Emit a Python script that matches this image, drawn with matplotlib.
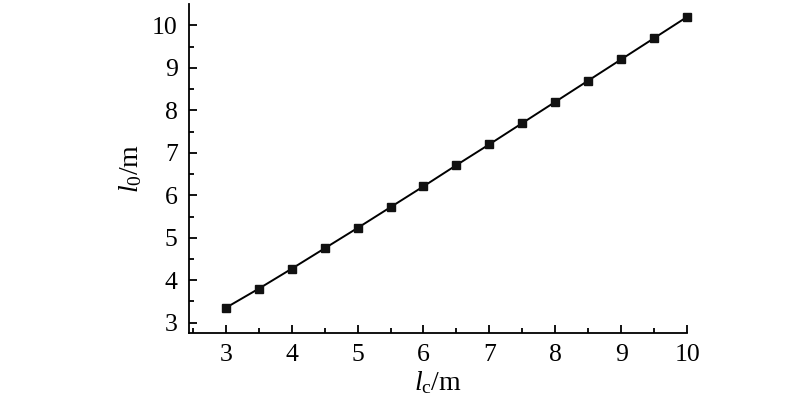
import matplotlib
matplotlib.use('Agg')
import matplotlib.pyplot as plt

plt.rcParams['font.family'] = ['Liberation Serif', 'DejaVu Serif']
plt.rcParams['mathtext.fontset'] = 'custom'
plt.rcParams['mathtext.rm'] = 'Liberation Serif'
plt.rcParams['mathtext.it'] = 'Liberation Serif:italic'

# 数据
lc = [3, 3.5, 4, 4.5, 5, 5.5, 6, 6.5, 7, 7.5, 8, 8.5, 9, 9.5, 10]
l0 = [3.35, 3.8, 4.27, 4.75, 5.23, 5.72, 6.21, 6.71, 7.2, 7.7, 8.2, 8.7, 9.2, 9.7, 10.2]
xticks = [3, 4, 5, 6, 7, 8, 9, 10]
yticks = [3, 4, 5, 6, 7, 8, 9, 10]

fig = plt.figure(figsize=(8, 4.08), dpi=100)
ax = fig.add_axes([0.236, 0.184, 0.623, 0.806])

ax.plot(lc, l0, color='black', lw=1.4, marker='s', ms=6, mfc='#111111', mec='#111111', clip_on=False)

ax.set_xlim(2.44, 10.0)
ax.set_ylim(2.76, 10.5)
ax.set_xticks(xticks)
ax.set_yticks(yticks)
ax.set_xticks([2.5 + i for i in range(8)], minor=True)
ax.set_yticks([3.5 + i for i in range(7)], minor=True)

ax.spines['top'].set_visible(False)
ax.spines['right'].set_visible(False)
ax.spines['left'].set_linewidth(1.3)
ax.spines['bottom'].set_linewidth(1.3)
ax.tick_params(which='major', direction='in', length=6, width=1.3, labelsize=18.5, pad=8)
ax.tick_params(which='minor', direction='in', length=3.5, width=1.3)

ax.set_xlabel(r'$l_{\mathrm{c}}$/m', fontsize=20, labelpad=2)
ax.set_ylabel(r'$l_{\mathit{0}}$/m', fontsize=20, labelpad=6)

fig.savefig('out.png', dpi=100)
